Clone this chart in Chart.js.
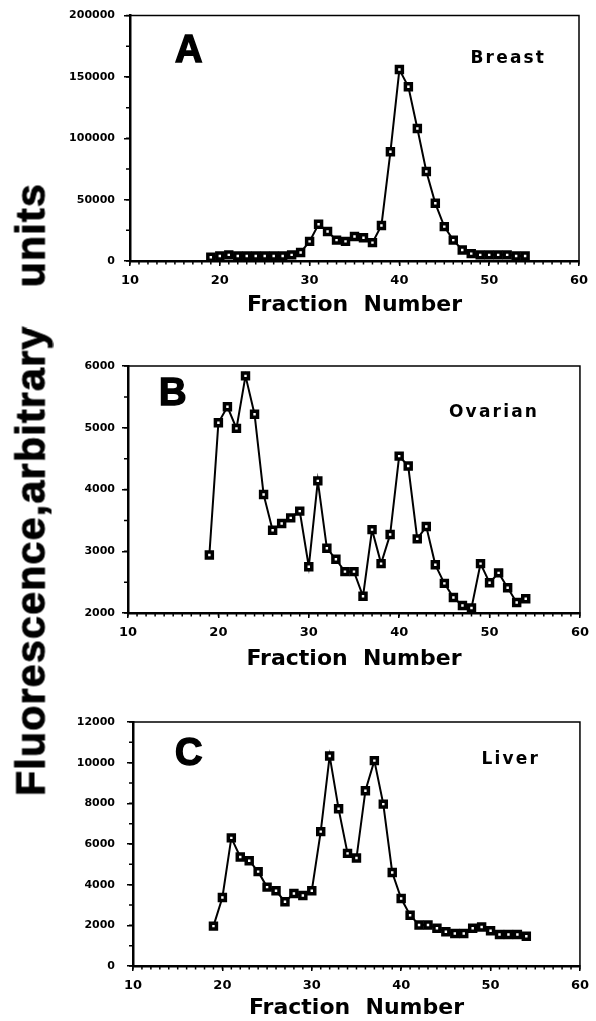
<!DOCTYPE html>
<html lang="en">
<head>
<meta charset="UTF-8">
<title>Fluorescence vs fraction number</title>
<script src="https://cdn.jsdelivr.net/npm/chart.js"></script>
<style>
  html, body { margin: 0; padding: 0; background: #fff; }
  body { width: 596px; height: 1021px; position: relative; overflow: hidden; }
  canvas { position: absolute; left: 0; }
  #ytitle {
    position: absolute;
    width: 700px; height: 41px; line-height: 41px;
    left: -322px; top: 469px;
    transform: rotate(-90deg);
    text-align: center; white-space: nowrap;
    font: bold 41px "Liberation Sans", Arial, sans-serif;
    letter-spacing: 1.3px;
    -webkit-text-stroke: 1px #000;
    color: #000;
  }
</style>
</head>
<body>
<canvas id="chartA" width="596" height="330" style="top:0"></canvas>
<canvas id="chartB" width="596" height="350" style="top:330px"></canvas>
<canvas id="chartC" width="596" height="341" style="top:680px"></canvas>
<div id="ytitle">Fluorescence,arbitrary&nbsp;&nbsp;&nbsp;units</div>

<script>
// fraction numbers (x)
const fractions = [19, 20, 21, 22, 23, 24, 25, 26, 27, 28, 29, 30, 31, 32, 33, 34, 35, 36,
                   37, 38, 39, 40, 41, 42, 43, 44, 45, 46, 47, 48, 49, 50, 51, 52, 53, 54];

// panel A - breast
const breast = [3000, 4000, 5000, 4000, 4000, 4000, 4000, 4000, 4000, 5000, 7000, 16000,
                30000, 24000, 17000, 16000, 20000, 19000, 15000, 29000, 89000, 156000, 142000, 108000,
                73000, 47000, 28000, 17000, 9000, 6000, 5000, 5000, 5000, 5000, 4000, 4000];

// panel B - ovarian
const ovarian = [2940, 5080, 5340, 4990, 5840, 5220, 3920, 3340, 3450, 3540, 3650, 2750,
                 4140, 3050, 2870, 2670, 2670, 2270, 3350, 2800, 3270, 4540, 4380, 3200,
                 3400, 2780, 2480, 2250, 2120, 2080, 2800, 2490, 2650, 2410, 2170, 2230];

// panel C - liver
const liver = [1960, 3370, 6300, 5360, 5180, 4640, 3880, 3700, 3160, 3570, 3470, 3700,
               6610, 10330, 7730, 5540, 5310, 8620, 10100, 7960, 4600, 3320, 2500, 2020,
               2020, 1860, 1680, 1600, 1600, 1860, 1920, 1730, 1550, 1550, 1550, 1460];

// tick labels
const xTickValues = [10, 20, 30, 40, 50, 60];
const breastTicks = [0, 50000, 100000, 150000, 200000];
const ovarianTicks = [2000, 3000, 4000, 5000, 6000];
const liverTicks = [0, 2000, 4000, 6000, 8000, 10000, 12000];

const BOLD_WIDE = 'DejaVu Sans';

// frame, minor ticks, panel letter and tissue name
const panelDecor = {
  id: 'panelDecor',
  afterDraw(chart, args, o) {
    const { ctx, chartArea: a, scales: { x, y } } = chart;
    ctx.save();
    ctx.strokeStyle = '#000';
    ctx.fillStyle = '#000';
    ctx.lineWidth = 1.5;
    ctx.beginPath();
    ctx.moveTo(a.left, a.top);
    ctx.lineTo(a.right, a.top);
    ctx.lineTo(a.right, a.bottom);
    ctx.stroke();

    ctx.beginPath();
    for (let v = x.min; v <= x.max; v += o.minorX) {
      const px = x.getPixelForValue(v);
      ctx.moveTo(px, a.bottom);
      ctx.lineTo(px, a.bottom + 3.5);
    }
    for (let v = y.min; v <= y.max; v += o.minorY) {
      const py = y.getPixelForValue(v);
      ctx.moveTo(a.left - 4, py);
      ctx.lineTo(a.left, py);
    }
    ctx.stroke();

    // big panel letter, slightly heavier than plain bold
    ctx.textBaseline = 'middle';
    ctx.textAlign = 'left';
    ctx.font = 'bold 38px "Liberation Sans", Arial, sans-serif';
    ctx.lineWidth = 1.5;
    ctx.fillText(o.letter, a.left + o.letterX, a.top + o.letterY);
    ctx.strokeText(o.letter, a.left + o.letterX, a.top + o.letterY);

    ctx.font = 'bold 17px "DejaVu Sans", sans-serif';
    ctx.letterSpacing = '2.2px';
    ctx.textAlign = 'right';
    ctx.fillText(o.name, a.right - o.nameRight + 2.2, a.top + o.nameY);
    ctx.restore();
  }
};

function makePanel(id, values, yTicks, box, deco) {
  const canvas = document.getElementById(id);
  const W = canvas.width, H = canvas.height;
  return new Chart(canvas, {
    type: 'line',
    data: {
      datasets: [{
        data: fractions.map((f, i) => ({ x: f, y: values[i] })),
        borderColor: '#000',
        borderWidth: 2,
        pointStyle: 'rect',
        pointRadius: 4.2,
        pointBorderWidth: 3.5,
        pointBackgroundColor: '#fff',
        pointBorderColor: '#000',
        tension: 0,
        clip: false
      }]
    },
    options: {
      responsive: false,
      animation: false,
      devicePixelRatio: 1,
      events: [],
      layout: { padding: { left: 0, top: box.top, right: W - box.right, bottom: 0 } },
      plugins: {
        legend: { display: false },
        tooltip: { enabled: false },
        panelDecor: deco
      },
      scales: {
        x: {
          type: 'linear',
          min: 10, max: 60,
          afterBuildTicks: s => { s.ticks = xTickValues.map(v => ({ value: v })); },
          afterFit: s => { s.height = H - box.bottom; },
          ticks: {
            color: '#000',
            font: { family: BOLD_WIDE, weight: 'bold', size: 13 },
            padding: 7,
            maxRotation: 0,
            autoSkip: false,
            callback: v => String(v)
          },
          grid: { drawOnChartArea: false, drawTicks: true, tickLength: 5, color: '#000', lineWidth: 1.5 },
          border: { color: '#000', width: 2.5 },
          title: {
            display: true,
            text: 'Fraction  Number',
            color: '#000',
            font: { family: BOLD_WIDE, weight: 'bold', size: 22 },
            padding: { top: 0, bottom: box.titlePad }
          }
        },
        y: {
          type: 'linear',
          min: yTicks[0], max: yTicks[yTicks.length - 1],
          afterBuildTicks: s => { s.ticks = yTicks.map(v => ({ value: v })); },
          afterFit: s => { s.width = box.left; },
          ticks: {
            color: '#000',
            font: { family: BOLD_WIDE, weight: 'bold', size: 11 },
            padding: box.left - 6 - 115,
            callback: v => String(v)
          },
          grid: { drawOnChartArea: false, drawTicks: true, tickLength: 6, color: '#000', lineWidth: 1.5 },
          border: { color: '#000', width: 2.5 }
        }
      }
    },
    plugins: [panelDecor]
  });
}

makePanel('chartA', breast, breastTicks,
  { left: 130, right: 579, top: 14, bottom: 261, titlePad: 12 },
  { letter: 'A', name: 'Breast', letterX: 45, letterY: 36, nameRight: 35, nameY: 43, minorX: 1, minorY: 25000 });

makePanel('chartB', ovarian, ovarianTicks,
  { left: 128, right: 583, top: 36, bottom: 283, titlePad: 8 },
  { letter: 'B', name: 'Ovarian', letterX: 31, letterY: 29, nameRight: 43, nameY: 47, minorX: 1, minorY: 500 });

makePanel('chartC', liver, liverTicks,
  { left: 133, right: 587, top: 42, bottom: 286, titlePad: 0 },
  { letter: 'C', name: 'Liver', letterX: 42, letterY: 33, nameRight: 42, nameY: 38, minorX: 1, minorY: 1000 });
</script>
</body>
</html>
